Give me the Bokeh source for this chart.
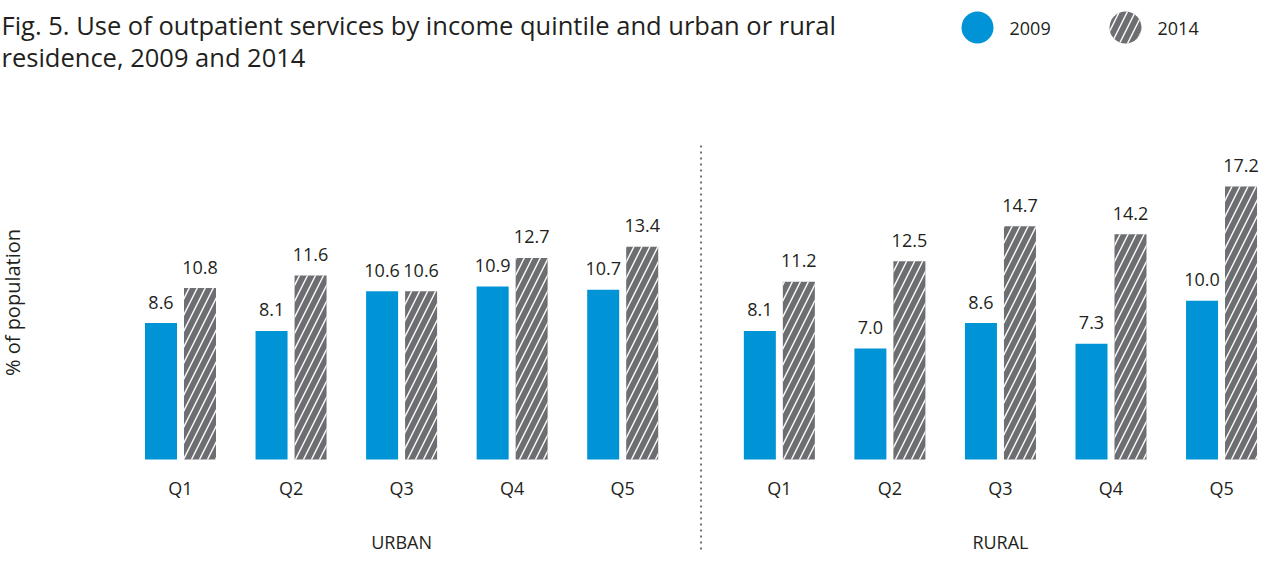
import math
from bokeh.plotting import figure
from bokeh.models import ColumnDataSource, Range1d
from bokeh.core.properties import value
from bokeh.embed import file_html
from bokeh.resources import INLINE

# ---------------- data ----------------
title_line1 = "Fig. 5. Use of outpatient services by income quintile and urban or rural"
title_line2 = "residence, 2009 and 2014"
y_label = "% of population"
quintiles = ["Q1", "Q2", "Q3", "Q4", "Q5"]
areas = ["URBAN", "RURAL"]
series = ["2009", "2014"]
urban_2009 = [8.6, 8.1, 10.6, 10.9, 10.7]
urban_2014 = [10.8, 11.6, 10.6, 12.7, 13.4]
rural_2009 = [8.1, 7.0, 8.6, 7.3, 10.0]
rural_2014 = [11.2, 12.5, 14.7, 14.2, 17.2]

# ---------------- layout / style ----------------
W, H = 1259, 553
PX_X = 110.55         # pixels per quintile group
PX_Y = 15.87          # pixels per percentage point
GROUP_GAP = 5.417     # offset (in group units) of the rural block
ORIGIN_X = 180        # figure px of the first group centre
BASELINE_Y = 459      # figure px of value 0
BLUE = "#0093d6"
GREY = "#6d6e71"
TXT = "#231f20"
FONT = value("Open Sans")

x_start = -ORIGIN_X / PX_X
x_end = x_start + W / PX_X
y_end = BASELINE_Y / PX_Y
y_start = y_end - H / PX_Y


def dx(px):
    return x_start + px / PX_X


def dy(py):
    return y_end - py / PX_Y


OFF = 19.5 / PX_X
BW = 32 / PX_X

centers = [i + a * GROUP_GAP for a in range(len(areas)) for i in range(len(quintiles))]
v2009 = urban_2009 + rural_2009
v2014 = urban_2014 + rural_2014

src = ColumnDataSource(dict(
    x09=[c - OFF for c in centers],
    x14=[c + OFF for c in centers],
    xc=centers,
    v09=v2009,
    v14=v2014,
    l09=[f"{v:.1f}" for v in v2009],
    l14=[f"{v:.1f}" for v in v2014],
    q=quintiles * len(areas),
))

p = figure(width=W, height=H, output_backend="svg", toolbar_location=None,
           x_range=Range1d(x_start, x_end), y_range=Range1d(y_start, y_end),
           x_axis_location=None, y_axis_location=None,
           min_border=0, outline_line_color=None, background_fill_color="white")
p.grid.visible = False

HATCH = dict(hatch_pattern="/", hatch_color="white", hatch_weight=1.4, hatch_scale=16)

# bars
p.vbar(x="x09", top="v09", width=BW, bottom=0, source=src,
       fill_color=BLUE, line_color=None)
p.vbar(x="x14", top="v14", width=BW, bottom=0, source=src,
       fill_color=GREY, line_color=None, **HATCH)

# value labels
lab = dict(text_font=FONT, text_font_size="18px", text_color=TXT,
           text_align="center", text_baseline="alphabetic", y_offset=-21)
p.text(x="x09", y="v09", text="l09", source=src, **lab)
p.text(x="x14", y="v14", text="l14", source=src, **lab)

# quintile labels
p.text(x="xc", y=0, text="q", source=src, text_font=FONT, text_font_size="18px",
       text_color=TXT, text_align="center", text_baseline="alphabetic", y_offset=28)

# area labels
area_x = [2 + a * GROUP_GAP for a in range(len(areas))]
p.text(x=area_x, y=[0] * len(areas), text=areas, text_font=FONT, text_font_size="18px",
       text_color=TXT, text_align="center", text_baseline="alphabetic", y_offset=82)

# divider
mid = (4 + GROUP_GAP) / 2
p.segment(x0=[mid], x1=[mid], y0=[dy(145)], y1=[y_start], line_color="#444444",
          line_width=1.5, line_dash="2 4")

# y label
p.text(x=[dx(12)], y=[dy(302)], text=[y_label], angle=math.pi / 2,
       text_font=FONT, text_font_size="20px", text_color=TXT,
       text_align="center", text_baseline="middle")

# title
p.text(x=[dx(1), dx(1)], y=[dy(24), dy(56)], text=[title_line1, title_line2],
       text_font=FONT, text_font_size="25.5px", text_color=TXT,
       text_align="left", text_baseline="alphabetic")

# legend (manual)
p.scatter(x=[dx(977)], y=[dy(27)], size=32, marker="circle",
          fill_color=BLUE, line_color=None)
p.scatter(x=[dx(1125)], y=[dy(27)], size=32, marker="circle",
          fill_color=GREY, line_color=None, **HATCH)
p.text(x=[dx(1009), dx(1157)], y=[dy(28), dy(28)], text=series,
       text_font=FONT, text_font_size="18px", text_color=TXT,
       text_align="left", text_baseline="middle")

open("out.html", "w").write(file_html(p, INLINE))
